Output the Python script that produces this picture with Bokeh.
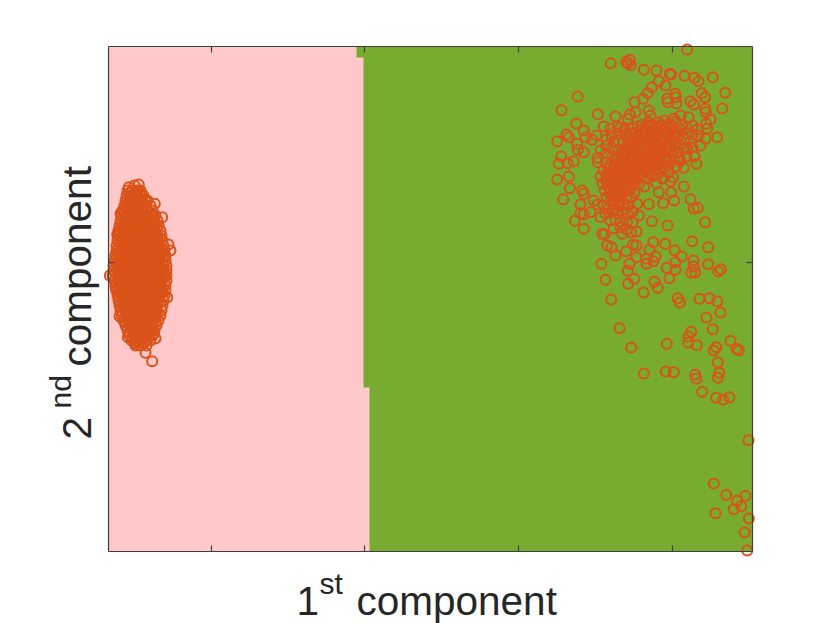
from bokeh.plotting import figure
from bokeh.models import Range1d, Label, FixedTicker, LinearAxis
from bokeh.embed import file_html
from bokeh.resources import INLINE
import math

# Arbitrary component units (the axes carry no numbers)
x_limits = (108, 752)
y_limits = (551, 46)
x_ticks = [211, 364, 518, 672]
y_ticks = [262]

region_x = [108, 356, 356, 363, 363, 369, 369, 108]
region_y = [46, 46, 57, 57, 387, 387, 551, 551]

cluster_rows = [
 (190,[127,132,137,140]),(195,[126,131,136,141,143]),(200,[125,130,135,140,145,147]),
 (205,[124,129,134,139,144,150]),(210,[122,127,132,137,142,147,152]),
 (215,[121,126,131,136,141,146,151,155]),(220,[120,125,130,135,140,145,150,157]),
 (225,[119,124,129,134,139,144,149,154,158]),(230,[118,123,128,133,138,143,148,153,160]),
 (235,[118,122,127,132,137,142,147,152,157,161]),(240,[117,122,127,132,137,142,147,152,157,162]),
 (245,[116,121,126,131,136,141,146,151,156,163]),(250,[116,120,125,130,135,140,145,150,155,160,164]),
 (255,[115,120,125,130,135,140,145,150,155,160,165]),(260,[114,119,124,129,134,139,144,149,154,159,165]),
 (265,[113,118,123,128,133,138,143,148,153,158,163,166]),(270,[113,117,122,127,132,137,142,147,152,157,162,166]),
 (275,[112,118,123,128,133,138,143,148,153,158,163,166]),(280,[114,119,124,129,134,139,144,149,154,159,166]),
 (285,[115,120,125,130,135,140,145,150,155,160,165]),(290,[116,121,126,131,136,141,146,151,156,161,165]),
 (295,[117,122,127,132,137,142,147,152,157,164]),(300,[118,123,128,133,138,143,148,153,158,163]),
 (305,[119,124,129,134,139,144,149,154,162]),(310,[120,125,130,135,140,145,150,155,161]),
 (315,[121,126,131,136,141,146,151,156,160]),(320,[123,128,133,138,143,148,153,158]),
 (325,[125,130,135,140,145,150,156]),(330,[127,132,137,142,147,154]),
 (335,[129,134,139,144,149,152]),(340,[131,136,141,146,150]),(345,[135,140,146]),
]
cluster_fill_rows = [
 (192,[129,134,139]),(197,[128,133,138]),(202,[127,132,137,142]),(207,[126,131,136,141,146]),
 (212,[124,129,134,139,144,149]),(217,[123,128,133,138,143,148,153]),(222,[122,127,132,137,142,147,152]),
 (227,[121,126,131,136,141,146,151,156]),(232,[120,125,130,135,140,145,150,155]),(237,[120,125,130,135,140,145,150,155,159]),
 (242,[119,124,129,134,139,144,149,154,159]),(247,[118,123,128,133,138,143,148,153,158]),(252,[118,123,128,133,138,143,148,153,158,162]),
 (257,[117,122,127,132,137,142,147,152,157,162]),(262,[116,121,126,131,136,141,146,151,156,161]),(267,[115,120,125,130,135,140,145,150,155,160]),
 (272,[115,120,125,130,135,140,145,150,155,160,164]),(277,[115,120,125,130,135,140,145,150,155,160,164]),(282,[116,121,126,131,136,141,146,151,156,161]),
 (287,[117,122,127,132,137,142,147,152,157,162]),(292,[118,123,128,133,138,143,148,153,158,162]),(297,[119,124,129,134,139,144,149,154,159]),
 (302,[120,125,130,135,140,145,150,155,160]),(307,[121,126,131,136,141,146,151,156]),(312,[122,127,132,137,142,147,152,157]),
 (317,[124,129,134,139,144,149,154]),(322,[125,130,135,140,145,150,155]),(327,[127,132,137,142,147,152]),
 (332,[129,134,139,144,149]),(337,[132,137,142,147]),(342,[134,139,144]),
]
cluster_extra = [(109.3,275),(170,250),(168,244),(151.7,360.7),(145,352.3),(155,338),(153.3,333),
 (127.3,336.7),(134.3,343),(119,315.7),(166.7,297),(115.7,288),(115,255),(116.7,234),(120,213.3),
 (154.3,203.3),(161.7,216.7),(134,185),(128.3,186.7),(138.3,184)]

scatter_points = [
 (686.7,49),(610.3,62.7),(625.7,61.3),(629.3,59.3),(627.3,62.7),(630,64.7),(643.3,69.3),(656,70),
 (669.3,73.3),(670.7,74),(684,75.3),(694,77.3),(698,80.7),(712.3,76.7),(658.3,80.7),(665,85),
 (651.3,86.7),(647.3,92.7),(642.7,98.3),(634,101.7),(577.3,96),(724.7,92.3),(701.3,92.7),(704.7,96.7),
 (674.7,93.3),(666.7,98.3),(667.3,101.7),(675.3,96.7),(676,102.7),(690,100.7),(693.3,104),(704.7,108.3),
 (705.3,111.7),(721.7,108),(561,109.7),(597.3,113.7),(615,116),(648.3,110),(650,115),(635,111.7),
 (629.3,114),(627.3,118.3),(710,119),(705.7,123.3),(688.3,116.7),(680,115),(673.3,118.3),(575.7,123),
 (603.3,126),(706.7,128.3),(620,127.3),(566,134),(568.3,136.7),(556.7,140.7),(583.3,130),(585,136.7),
 (596,135),(591.7,139.3),(716.7,136.7),(705,138.3),(700,145),(576.7,143.3),(583.3,151.7),(577.3,149.3),
 (560.7,156),(558.3,163.3),(567.3,162.7),(573.3,160.7),(597.3,157.3),(597.3,161.7),(696,163.3),
 (683.3,167.3),(694,156),(686.7,148.3),(556.7,179),(568.3,176),(569.3,187.7),(672.7,176.7),(670,180.7),
 (683.3,186),(581.7,190),(583.3,193.3),(562.7,198.7),(593.3,200),(580,204),(580,212.7),(583.3,214),
 (590,211.7),(574.3,220.3),(583.3,228.3),(648.3,203.7),(658.3,191.7),(670.7,191.7),(662.7,202.7),
 (673.7,200),(690,198.7),(693.3,208.3),(697.3,207.3),(704.7,221.7),(651.3,220.7),(667,225),(638.3,215),
 (636.7,203.3),(626.7,221.7),(620,226.7),(600,216.7),(608.3,208.3),
 (601.7,233.3),(604,234),(636,231),(630.7,232),(621.7,233.3),(606.7,245),(611,246.7),(615,255),
 (625.7,250.7),(632.7,244.3),(636,245),(652.7,241.7),(664.7,243.3),(649,249.3),(691.7,240.7),(707.7,246.7),
 (674.3,250),(681.3,256),(636,256.7),(655,256),(646,258.3),(652.7,260.7),(646,263.3),(601,263.3),
 (629,263.3),(627.3,270.3),(675,261.7),(693,260),(707.7,263.7),(666.3,267.3),(675,269.3),(693.3,266),
 (690.7,272.3),(694.7,272),(720.3,268.7),(717.7,271),(605,279.3),(633.7,278.3),(627.7,283.3),(669,277.7),
 (654,281.3),(657.3,287.3),(643,292),(610.7,299),(677.3,297.7),(679.3,302),(699,298.3),(709,297.7),
 (716.7,300.7),(720,312),(706,317),(619,327.7),(690.7,331.3),(688,336),(687.7,342),(696.3,344.7),
 (666.3,343.3),(630.7,347),(712.3,328.7),(730,340.3),(715.7,346.7),(713.3,350),(736,348.3),(738.3,350),
 (717.3,362),(718.7,372.3),(717.3,377.3),(643.3,373),(665.3,371),(673.3,371.7),(694.7,374),(695.7,378.3),
 (701.7,391.3),(715.7,397.3),(722.7,399.3),(729,396.7),
 (748,439.7),(713.3,483),(725.7,494.3),(745,495.3),(736.7,500.3),(740.7,505.7),(733.3,508.7),(715,512.7),
 (748.3,518),(744.3,532),(746.7,550),
]
core_points = [
 (632,128),(637,126),(642,124),(648,122),(653,125),(658,122),(664,120),(669,123),(675,121),(681,124),(686,127),(692,125),(697,129),
 (630,133),(635,132),(640,130),(645,129),(650,131),(655,129),(660,128),(665,130),(670,128),(675,131),(680,129),(686,133),(692,134),(698,135),
 (628,138),(633,137),(638,136),(643,135),(648,137),(653,135),(658,134),(663,136),(668,134),(673,137),(678,136),(684,139),(690,141),
 (618,140),(623,142),(628,144),(634,142),(639,141),(644,143),(649,141),(654,142),(659,140),(664,142),(669,141),(674,143),(680,145),
 (606,145),(612,148),(618,150),(624,149),(630,150),(636,148),(641,149),(646,148),(651,150),(656,147),(661,149),(666,147),(671,149),(677,151),
 (612,156),(618,157),(624,155),(630,156),(636,155),(641,156),(646,154),(651,156),(656,155),(661,154),(666,156),(672,155),
 (605,162),(610,164),(616,162),(622,161),(628,162),(633,161),(638,163),(644,161),(650,162),(655,161),(660,163),(665,162),
 (603,170),(608,168),(613,170),(619,168),(625,169),(631,168),(637,170),(643,168),(649,170),(655,168),(660,171),
 (600,176),(606,175),(611,177),(616,175),(622,176),(628,175),(634,177),(640,176),(646,178),(652,176),
 (602,183),(607,182),(612,184),(617,182),(622,184),(627,183),(632,185),(638,184),(644,186),
 (604,190),(609,189),(614,191),(619,189),(624,191),(629,190),(634,192),
 (606,197),(611,196),(616,198),(621,196),(626,198),(631,197),
 (597,204),(603,205),(613,203),(618,205),(623,203),(628,205),
 (605,213),(612,211),(617,213),(622,211),(627,213),(632,211),
 (610,220),(615,219),(620,221),(632,222),
 (613,228),(626,229),
 (640,134),(650,126),(660,125),(670,125),(645,133),(655,133),(665,133),(675,135),
 (635,146),(645,146),(655,145),(665,145),(640,152),(650,153),(660,151),(625,153),(615,159),
 (620,165),(630,165),(640,166),(650,166),(608,173),(618,172),(628,172),(638,173),(610,180),(620,179),(630,180),
 (615,187),(625,187),(612,194),(622,194),(618,201),(625,208),(615,208),
 (626,146),(631,153),(637,159),(643,158),(649,159),(654,158),(659,157),(664,159),(669,160),(635,166),(645,165),(655,165),
 (627,158),(621,153),(615,168),(625,172),(633,174),(641,172),(650,173),(657,174),(663,168),(668,165),(674,160),(678,157),
 (620,171),(612,174),(606,180),(616,180),(626,180),(634,180),(608,186),(618,186),(628,186),(610,192),(620,192),(611,200),(620,200),
 (640,147),(650,145),(660,146),(670,146),(632,145),(643,139),(653,139),(663,139),(672,140),(647,126),(656,127),(666,126),
 (610,128),(617,126),(624,129),(611,135),(618,133),(625,135),(606,139),(613,141),(600,150),(606,153),
 (680,160),(686,156),(668,172),(676,166),(662,178),(656,183),(684,148),(692,147),
]

left_x = [x for y, xs in cluster_rows + cluster_fill_rows for x in xs] + [c[0] for c in cluster_extra]
left_y = [y for y, xs in cluster_rows + cluster_fill_rows for x in xs] + [c[1] for c in cluster_extra]
right_x = [c[0] for c in scatter_points + core_points]
right_y = [c[1] for c in scatter_points + core_points]

DARK = "#404040"
# The frame fills the page so the labels and the rings that cross the box are not clipped;
# the visible axes are placed at the limits with fixed_location and bounds.
p = figure(width=830, height=623, output_backend="svg", toolbar_location=None,
           x_range=Range1d(0, 830), y_range=Range1d(623, 0),
           min_border_left=0, min_border_right=0, min_border_top=0, min_border_bottom=0,
           x_axis_type=None, y_axis_type=None, background_fill_color="#FFFFFF")
p.xgrid.visible = False
p.ygrid.visible = False
p.outline_line_color = None

def make_axis(ticks, bounds, location, side):
    ax = LinearAxis(ticker=FixedTicker(ticks=ticks), bounds=bounds, fixed_location=location,
                    major_label_overrides={t: "" for t in ticks},
                    axis_line_color=DARK, axis_line_width=1.2,
                    major_tick_line_color=DARK, major_tick_line_width=1.2,
                    major_tick_in=6, major_tick_out=0, minor_tick_line_color=None,
                    major_label_standoff=0)
    p.add_layout(ax, side)

make_axis(x_ticks, (x_limits[0], x_limits[1]), y_limits[0], "below")
make_axis(x_ticks, (x_limits[0], x_limits[1]), y_limits[1], "above")
make_axis(y_ticks, (y_limits[1], y_limits[0]), x_limits[0], "left")
make_axis(y_ticks, (y_limits[1], y_limits[0]), x_limits[1], "right")

p.quad(left=x_limits[0], right=x_limits[1], top=y_limits[1], bottom=y_limits[0],
       fill_color="#77AC30", line_color=None)
p.patch(region_x, region_y, fill_color="#FFC9C9", line_color=None)

p.scatter(left_x, left_y, size=10, marker="circle", fill_color=None,
          line_color="#DA5318", line_width=2)
p.scatter(right_x, right_y, size=10, marker="circle", fill_color=None,
          line_color="#DA5318", line_width=2)

FONT = "Liberation Sans"
def put(text, px, py, size, angle=0.0):
    p.add_layout(Label(x=px, y=py, x_units="data", y_units="data", text=text,
                       text_font=FONT, text_font_size=f"{size}px", text_color="#262626",
                       text_baseline="alphabetic", text_align="left", angle=angle))

put("1", 296, 600, 40.5)
put("st", 319, 583, 30)
put("component", 356, 600, 40.5)
put("2", 76, 439, 40.5, math.pi / 2)
put("nd", 60, 408, 30, math.pi / 2)
put("component", 76, 366, 40.5, math.pi / 2)

open("out.html", "w").write(file_html(p, INLINE))
